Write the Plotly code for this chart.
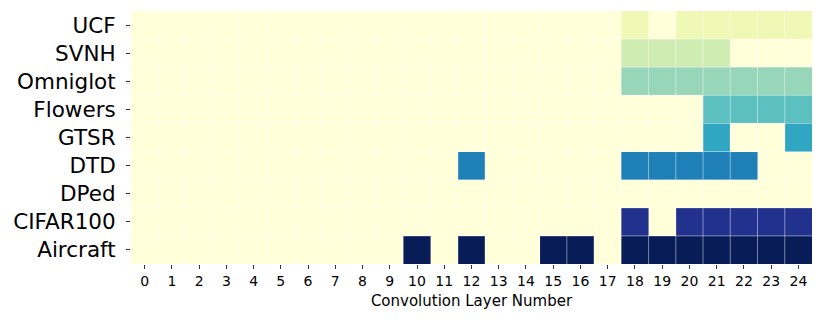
import plotly.graph_objects as go

# datasets (top to bottom) and conv layer indices
datasets = ["UCF", "SVNH", "Omniglot", "Flowers", "GTSR", "DTD", "DPed", "CIFAR100", "Aircraft"]
layers = list(range(25))

# layers that are "on" for each dataset
active_layers = {
    "UCF": [18, 20, 21, 22, 23, 24],
    "SVNH": [18, 19, 20, 21],
    "Omniglot": [18, 19, 20, 21, 22, 23, 24],
    "Flowers": [21, 22, 23, 24],
    "GTSR": [21, 24],
    "DTD": [12, 18, 19, 20, 21, 22],
    "DPed": [],
    "CIFAR100": [18, 20, 21, 22, 23, 24],
    "Aircraft": [10, 12, 15, 16, 18, 19, 20, 21, 22, 23, 24],
}

# each dataset gets its own level in the colour map
levels = [1, 2, 3, 4, 5, 6, 7, 8, 9]

z = []
for name, lvl in zip(datasets, levels):
    z.append([lvl if l in active_layers[name] else 0 for l in layers])

ylgnbu = [
    [0.0, "rgb(255,255,217)"], [0.125, "rgb(237,248,177)"], [0.25, "rgb(199,233,180)"],
    [0.375, "rgb(127,205,187)"], [0.5, "rgb(65,182,196)"], [0.625, "rgb(29,145,192)"],
    [0.75, "rgb(34,94,168)"], [0.875, "rgb(37,52,148)"], [1.0, "rgb(8,29,88)"],
]

fig = go.Figure(go.Heatmap(
    z=z, x=layers, y=datasets,
    colorscale=ylgnbu, zmin=0, zmax=9,
    showscale=False, hoverongaps=False,
))

# faint white cell borders (seaborn-style linewidths)
line_style = dict(color="rgba(255,255,255,0.45)", width=1)
for k in range(1, len(layers)):
    fig.add_shape(type="line", xref="x", yref="paper", x0=k - 0.5, x1=k - 0.5,
                  y0=0, y1=1, line=line_style, layer="above")
for k in range(1, len(datasets)):
    fig.add_shape(type="line", xref="paper", yref="y", x0=0, x1=1,
                  y0=k - 0.5, y1=k - 0.5, line=line_style, layer="above")

# page body has an 8px default margin, so margins are shifted to compensate
fig.update_layout(
    width=823, height=322,
    margin=dict(l=123, r=19, t=3, b=66),
    paper_bgcolor="white",
    plot_bgcolor="white",
    font=dict(family="DejaVu Sans", color="black"),
)
fig.update_xaxes(
    tickmode="array", tickvals=layers, ticktext=[str(l) for l in layers],
    ticks="outside", ticklen=4, tickcolor="#333", tickfont=dict(size=14),
    title=dict(text="Convolution Layer Number", font=dict(size=15), standoff=7),
    showgrid=False, zeroline=False, showline=False, automargin=False,
)
fig.update_yaxes(
    autorange="reversed", ticks="outside", ticklen=4, tickcolor="#333",
    tickfont=dict(size=21.5), ticklabelstandoff=6,
    showgrid=False, zeroline=False, showline=False, automargin=False,
)

fig.write_html("out.html")
